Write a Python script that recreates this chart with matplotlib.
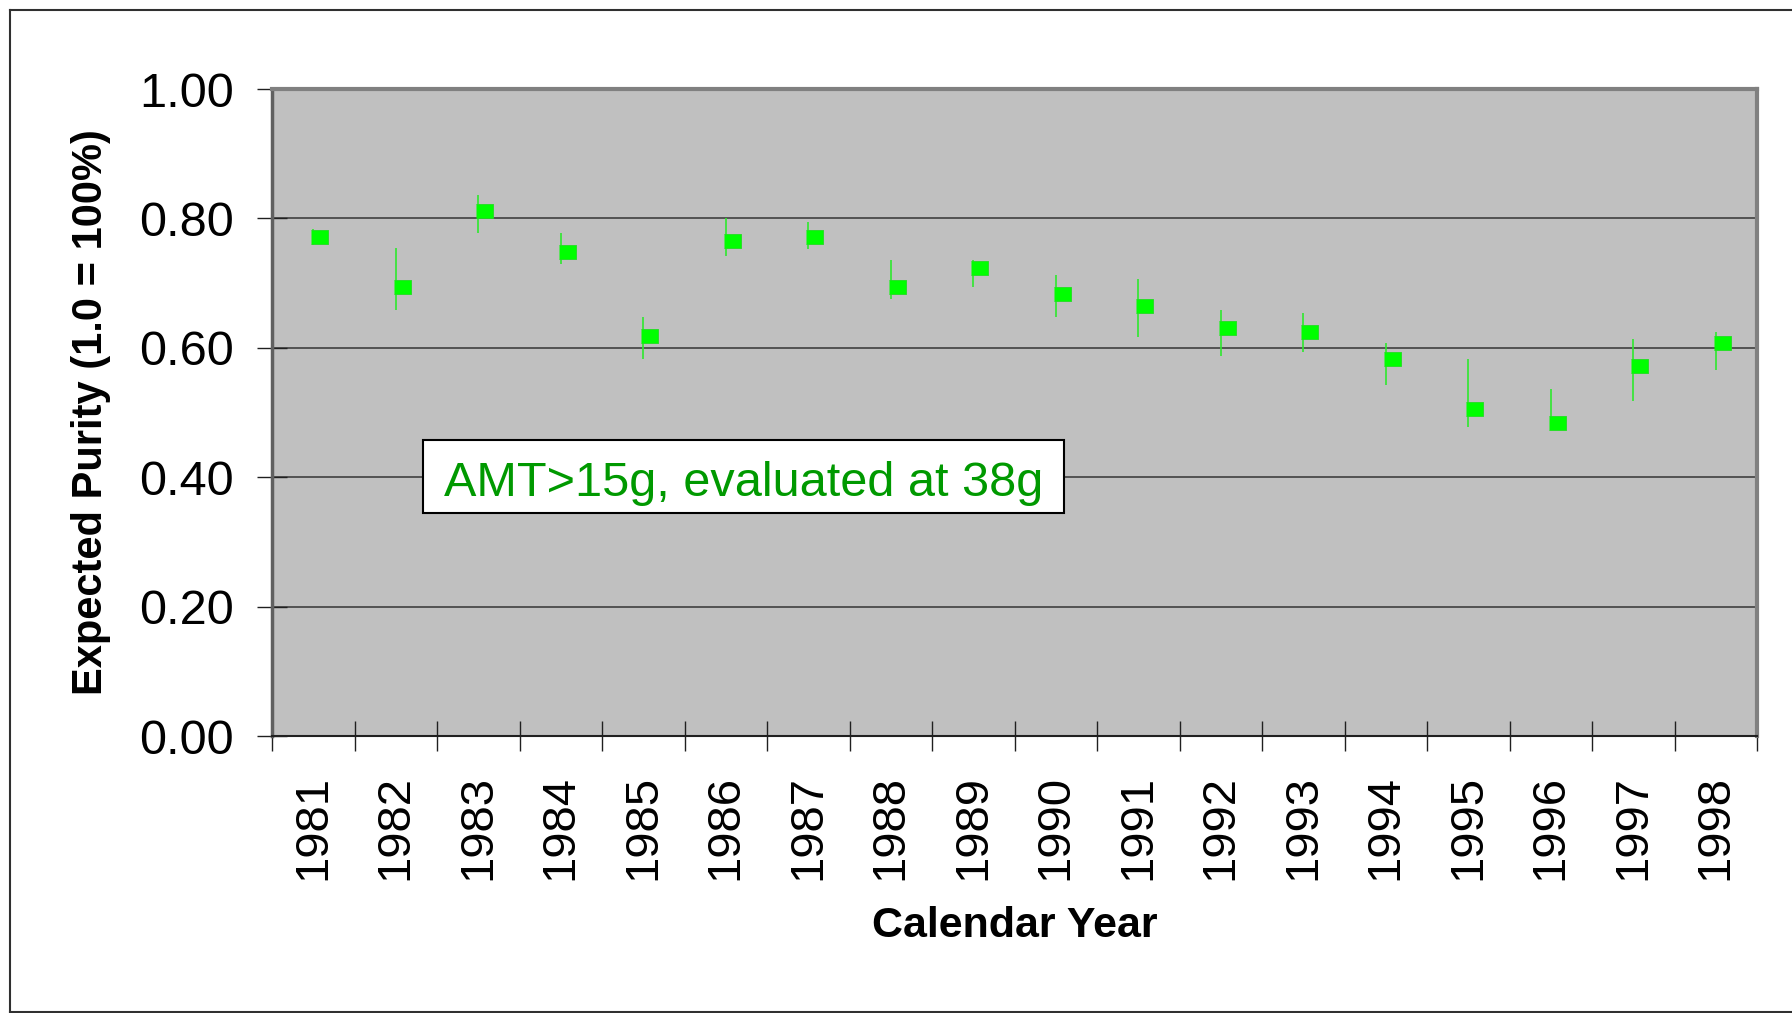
import matplotlib.pyplot as plt
from matplotlib.lines import Line2D
from matplotlib.patches import Rectangle
import numpy as np

plt.rcParams['font.family'] = ['Liberation Sans', 'DejaVu Sans']

years = ['1981', '1982', '1983', '1984', '1985', '1986', '1987', '1988', '1989',
         '1990', '1991', '1992', '1993', '1994', '1995', '1996', '1997', '1998']
purity = [0.772, 0.694, 0.812, 0.748, 0.619, 0.765, 0.772, 0.694, 0.724,
          0.683, 0.665, 0.630, 0.624, 0.583, 0.506, 0.483, 0.572, 0.607]
high = [0.783, 0.754, 0.836, 0.777, 0.648, 0.800, 0.795, 0.736, 0.736,
        0.713, 0.707, 0.659, 0.654, 0.607, 0.583, 0.536, 0.613, 0.625]
low = [0.759, 0.658, 0.777, 0.729, 0.582, 0.742, 0.753, 0.676, 0.694,
       0.647, 0.617, 0.588, 0.594, 0.542, 0.477, 0.478, 0.518, 0.565]
y_ticks = [0.0, 0.2, 0.4, 0.6, 0.8, 1.0]
note = 'AMT>15g, evaluated at 38g'

fig = plt.figure(figsize=(17.92, 10.13), dpi=100)
ax = fig.add_axes([272 / 1792, 1 - 736 / 1013, 1485 / 1792, 647 / 1013])
ax.set_facecolor('#c0c0c0')

x = np.arange(len(years))

# high-low lines, close marker sits to the right of the line (excel stock chart)
ax.vlines(x, low, high, color='#2ee82e', lw=1.2, zorder=3)
close_marker = [(-0.13, -0.45), (1, -0.45), (1, 0.45), (-0.13, 0.45)]
ax.plot(x, purity, ls='none', marker=close_marker, ms=21, color='#00ff00',
        mec='#22dd22', mew=0.6, zorder=4)

ax.set_xlim(-0.5, len(years) - 0.5)
ax.set_ylim(0, 1)

ax.set_yticks(y_ticks)
ax.set_yticklabels(['%.2f' % v for v in y_ticks])
ax.yaxis.grid(True, color='#404040', lw=1.2)
ax.set_axisbelow(True)

ax.set_xticks(np.arange(-0.5, len(years), 1))
ax.set_xticklabels([])
ax.set_xticks(x, minor=True)
ax.set_xticklabels(years, minor=True, rotation=90)

ax.tick_params(axis='both', which='major', direction='inout', length=21, width=1,
               color='#202020', pad=17)
ax.tick_params(axis='y', labelsize=35)
ax.tick_params(axis='x', which='minor', length=0, labelsize=34, pad=28)

for side in ['top', 'right']:
    ax.spines[side].set_color('#808080')
    ax.spines[side].set_linewidth(3)
ax.spines['left'].set_color('#606060')
ax.spines['left'].set_linewidth(2.5)
ax.spines['bottom'].set_color('#202020')
ax.spines['bottom'].set_linewidth(1.5)

ax.set_ylabel('Expected Purity (1.0 = 100%)', fontsize=30, fontweight='bold', labelpad=20)
ax.set_xlabel('Calendar Year', fontsize=31, fontweight='bold', labelpad=19)

# note box
ax.add_patch(Rectangle((151 / 1485, 223 / 647), 641 / 1485, 73 / 647,
                       transform=ax.transAxes, facecolor='white', edgecolor='black',
                       lw=1.5, zorder=5))
ax.text((151 + 320.5) / 1485, (223 + 30) / 647, note, transform=ax.transAxes,
        ha='center', va='center', fontsize=35, color='#009900', zorder=6)

# outer chart frame
frame = dict(color='#303030', lw=1.5, transform=fig.transFigure)
fig.add_artist(Line2D([9.5 / 1792, 9.5 / 1792], [1 - 10 / 1013, 1.5 / 1013], **frame))
fig.add_artist(Line2D([9.5 / 1792, 1], [1 - 10 / 1013, 1 - 10 / 1013], **frame))
fig.add_artist(Line2D([9.5 / 1792, 1], [1.5 / 1013, 1.5 / 1013], **frame))

fig.savefig('out.png', dpi=100)
